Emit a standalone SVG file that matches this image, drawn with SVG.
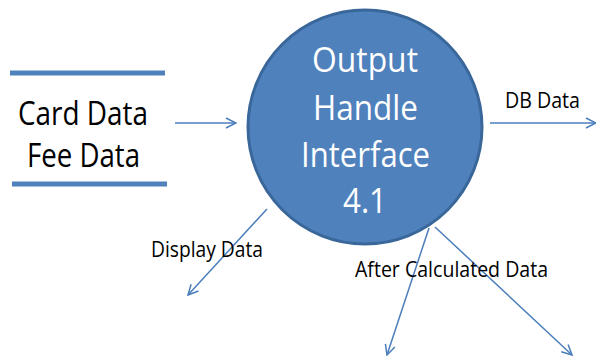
<svg xmlns="http://www.w3.org/2000/svg" width="596" height="356" viewBox="0 0 596 356">
<defs>
<marker id="arr" viewBox="0 0 12 12" refX="11" refY="6" markerWidth="12" markerHeight="12" markerUnits="userSpaceOnUse" orient="auto">
<path d="M1,1 L11,6 L1,11" fill="none" stroke="#4A7EBB" stroke-width="1.5"/>
</marker>
</defs>
<style>
.lbl{font-family:"Open Sans","Noto Sans",sans-serif;fill:#000}
.conn{stroke:#4A7EBB;stroke-width:1.5;fill:none;marker-end:url(#arr)}
.store{stroke:#4F81BD;stroke-width:5}
</style>
<rect width="596" height="356" fill="#fff"/>
<g id="store">
<line class="store" x1="10" y1="73" x2="165" y2="73"/>
<line class="store" x1="12" y1="184" x2="167" y2="184"/>
<text class="lbl" x="18" y="125" font-size="32" textLength="130" lengthAdjust="spacingAndGlyphs">Card Data</text>
<text class="lbl" x="27" y="167" font-size="32" textLength="113" lengthAdjust="spacingAndGlyphs">Fee Data</text>
</g>
<g id="process">
<circle cx="365" cy="127" r="117" fill="#4F81BD" stroke="#3A679A" stroke-width="3"/>
<g font-family="Open Sans,Noto Sans,sans-serif" font-size="35" fill="#fff">
<text x="312" y="72" textLength="106" lengthAdjust="spacingAndGlyphs">Output</text>
<text x="313" y="120" textLength="105" lengthAdjust="spacingAndGlyphs">Handle</text>
<text x="301" y="167" textLength="129" lengthAdjust="spacingAndGlyphs">Interface</text>
<text x="343" y="213" textLength="44" lengthAdjust="spacingAndGlyphs">4.1</text>
</g>
</g>
<g id="connectors">
<line class="conn" x1="175" y1="123" x2="236" y2="123"/>
<line class="conn" x1="490" y1="123" x2="596" y2="123"/>
<line class="conn" x1="267" y1="209" x2="188" y2="295"/>
<line class="conn" x1="429" y1="228" x2="387" y2="355"/>
<line class="conn" x1="435" y1="227" x2="572" y2="355"/>
<text class="lbl" x="505" y="108" font-size="21" textLength="75" lengthAdjust="spacingAndGlyphs">DB Data</text>
<text class="lbl" x="151" y="257" font-size="21" textLength="112" lengthAdjust="spacingAndGlyphs">Display Data</text>
<text class="lbl" x="355" y="277" font-size="21" textLength="193" lengthAdjust="spacingAndGlyphs">After Calculated Data</text>
</g>
</svg>
